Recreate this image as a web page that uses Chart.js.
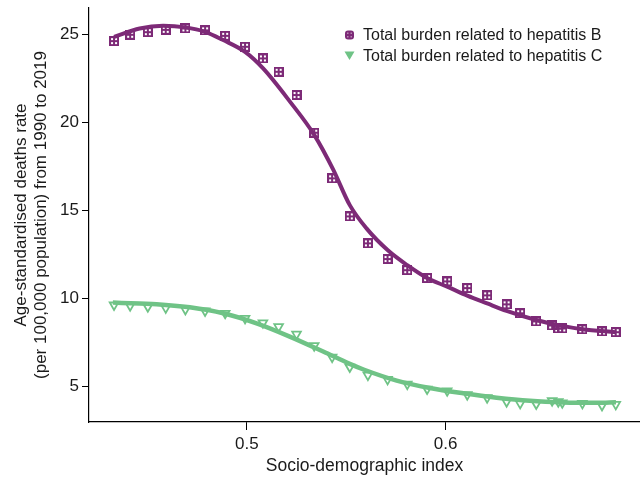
<!DOCTYPE html>
<html>
<head>
<meta charset="utf-8">
<script src="https://cdn.jsdelivr.net/npm/chart.js@4.4.0/dist/chart.umd.min.js"></script>
<style>
  html, body { margin: 0; padding: 0; background: #fff; }
  #wrap { width: 640px; height: 483px; }
</style>
</head>
<body>
<div id="wrap"><canvas id="chart" width="640" height="483"></canvas></div>
<script>
// SDI per year, 1990..2019
const sdiValues = [0.4332, 0.4413, 0.4502, 0.4592, 0.4691, 0.4790, 0.4891, 0.4991, 0.5081, 0.5160,
  0.5250, 0.5339, 0.5429, 0.5518, 0.5609, 0.5708, 0.5807, 0.5907, 0.6008, 0.6109,
  0.6209, 0.6307, 0.6375, 0.6456, 0.6536, 0.6567, 0.6587, 0.6688, 0.6787, 0.6856];
const hepBRates = [24.62, 24.98, 25.13, 25.26, 25.34, 25.23, 24.92, 24.30, 23.64, 22.88,
  21.56, 19.42, 16.83, 14.67, 13.14, 12.25, 11.62, 11.17, 10.98, 10.60,
  10.19, 9.68, 9.17, 8.71, 8.48, 8.31, 8.31, 8.26, 8.14, 8.10];
const hepCRates = [9.64, 9.60, 9.54, 9.48, 9.39, 9.30, 9.17, 8.88, 8.63, 8.41,
  7.99, 7.33, 6.68, 6.12, 5.66, 5.42, 5.15, 4.87, 4.77, 4.55,
  4.38, 4.15, 4.06, 4.02, 4.21, 4.15, 4.09, 4.06, 3.94, 4.00];

// fitted curves
const hepBFitSdi = [0.4332, 0.4461, 0.4579, 0.4691, 0.4790, 0.4881, 0.4991, 0.5082, 0.5216, 0.5339,
  0.5434, 0.5518, 0.5602, 0.5708, 0.5807, 0.5907, 0.6008, 0.6109,
  0.6209, 0.6307, 0.6456, 0.6567, 0.6688, 0.6856];
const hepBFitRates = [24.86, 25.34, 25.49, 25.40, 25.15, 24.68, 24.01, 23.07, 21.20, 19.30,
  17.34, 15.31, 13.99, 12.76, 11.90, 11.17, 10.68, 10.17,
  9.73, 9.31, 8.79, 8.50, 8.27, 8.10];
const hepCFitSdi = [0.4326, 0.4461, 0.4546, 0.4713, 0.4881, 0.5049, 0.5216, 0.5384, 0.5518, 0.5587,
  0.5754, 0.5921, 0.6089, 0.6257, 0.6424, 0.6592, 0.6760, 0.6857];
const hepCFitRates = [9.78, 9.72, 9.69, 9.51, 9.17, 8.60, 7.85, 7.00, 6.30, 5.98,
  5.35, 4.93, 4.63, 4.38, 4.20, 4.11, 4.09, 4.12];

const xTickValues = [0.5, 0.6];
const yTickValues = [5, 10, 15, 20, 25];

const PURPLE = "#7d2a77";
const GREEN = "#6fc386";
const FONT = "\"Liberation Sans\", Arial, sans-serif";

Chart.defaults.font.family = FONT;
Chart.defaults.color = "#1a1a1a";

function toPoints(xs, ys) {
  return xs.map((x, i) => ({ x, y: ys[i] }));
}

// square with a plus inside (looks like four small holes)
function makeBoxPlus(color) {
  const c = document.createElement("canvas");
  c.width = 10;
  c.height = 10;
  const g = c.getContext("2d");
  g.fillStyle = color;
  g.fillRect(0, 0, 10, 10);
  [[2, 2], [6, 2], [2, 6], [6, 6]].forEach(([x, y]) => g.clearRect(x, y, 2, 2));
  return c;
}

const boxPlus = makeBoxPlus(PURPLE);

const legendItems = [
  { label: "Total burden related to hepatitis B", color: PURPLE, kind: "box" },
  { label: "Total burden related to hepatitis C", color: GREEN, kind: "tri" }
];

const cornerLegend = {
  id: "cornerLegend",
  afterDraw(chart) {
    const ctx = chart.ctx;
    ctx.save();
    ctx.font = "16px " + FONT;
    ctx.textBaseline = "middle";
    legendItems.forEach((item, i) => {
      const mx = 349.5;
      const my = 35 + i * 20.5;
      ctx.fillStyle = item.color;
      if (item.kind === "box") {
        ctx.beginPath();
        ctx.roundRect(mx - 4.5, my - 4.5, 9, 9, 3);
        ctx.fill();
        ctx.fillStyle = "rgba(255,255,255,0.45)";
        [[-2.5, -2.5], [1, -2.5], [-2.5, 1], [1, 1]].forEach(([dx, dy]) => ctx.fillRect(mx + dx, my + dy, 1.5, 1.5));
      } else {
        ctx.beginPath();
        ctx.moveTo(mx - 5, my - 4);
        ctx.lineTo(mx + 5, my - 4);
        ctx.lineTo(mx, my + 4.5);
        ctx.closePath();
        ctx.fill();
      }
      ctx.fillStyle = "#1a1a1a";
      ctx.fillText(item.label, 363, my + 1);
    });
    ctx.restore();
  }
};

new Chart(document.getElementById("chart"), {
  type: "scatter",
  data: {
    datasets: [
      {
        label: "Total burden related to hepatitis B",
        data: toPoints(sdiValues, hepBRates),
        pointStyle: boxPlus,
        pointRadius: 5,
        showLine: false,
        order: 3
      },
      {
        label: "Total burden related to hepatitis C",
        data: toPoints(sdiValues, hepCRates),
        pointStyle: "triangle",
        rotation: 180,
        pointRadius: 5,
        pointBorderWidth: 1.8,
        pointBorderColor: GREEN,
        pointBackgroundColor: "rgba(255,255,255,0)",
        showLine: false,
        order: 4
      },
      {
        label: "fit B",
        data: toPoints(hepBFitSdi, hepBFitRates),
        showLine: true,
        borderColor: PURPLE,
        borderWidth: 4,
        pointRadius: 0,
        cubicInterpolationMode: "monotone",
        order: 1
      },
      {
        label: "fit C",
        data: toPoints(hepCFitSdi, hepCFitRates),
        showLine: true,
        borderColor: GREEN,
        borderWidth: 4.5,
        pointRadius: 0,
        cubicInterpolationMode: "monotone",
        order: 2
      }
    ]
  },
  options: {
    responsive: false,
    animation: false,
    devicePixelRatio: 1,
    layout: { autoPadding: false, padding: { top: 8, right: 0, left: 0, bottom: 0 } },
    plugins: {
      legend: { display: false },
      tooltip: { enabled: false }
    },
    scales: {
      x: {
        type: "linear",
        min: 0.4206,
        max: 0.6978,
        afterBuildTicks: (axis) => { axis.ticks = xTickValues.map((v) => ({ value: v })); },
        afterFit: (axis) => {
          axis.height = 61;
          axis.paddingLeft = 0;
          axis.paddingRight = 0;
        },
        grid: { drawOnChartArea: false, drawTicks: true, tickLength: 8, color: "#000" },
        border: { display: true, color: "#000", width: 1.2 },
        ticks: { font: { size: 17 }, padding: 4, callback: (v) => v.toFixed(1) },
        title: {
          display: true,
          text: "Socio-demographic index",
          font: { size: 17.5 },
          padding: { top: 0, bottom: 6 }
        }
      },
      y: {
        type: "linear",
        min: 3,
        max: 26.5,
        afterBuildTicks: (axis) => { axis.ticks = yTickValues.map((v) => ({ value: v })); },
        afterFit: (axis) => {
          axis.width = 89;
          axis.paddingTop = 0;
          axis.paddingBottom = 0;
        },
        grid: { drawOnChartArea: false, drawTicks: true, tickLength: 7, color: "#000" },
        border: { display: true, color: "#000", width: 1.2 },
        ticks: { font: { size: 17 }, padding: 3 },
        title: {
          display: true,
          text: ["Age-standardised deaths rate", "(per 100,000 population) from 1990 to 2019"],
          font: { size: 17 },
          padding: { top: 11, bottom: 0 }
        }
      }
    }
  },
  plugins: [cornerLegend]
});
</script>
</body>
</html>
